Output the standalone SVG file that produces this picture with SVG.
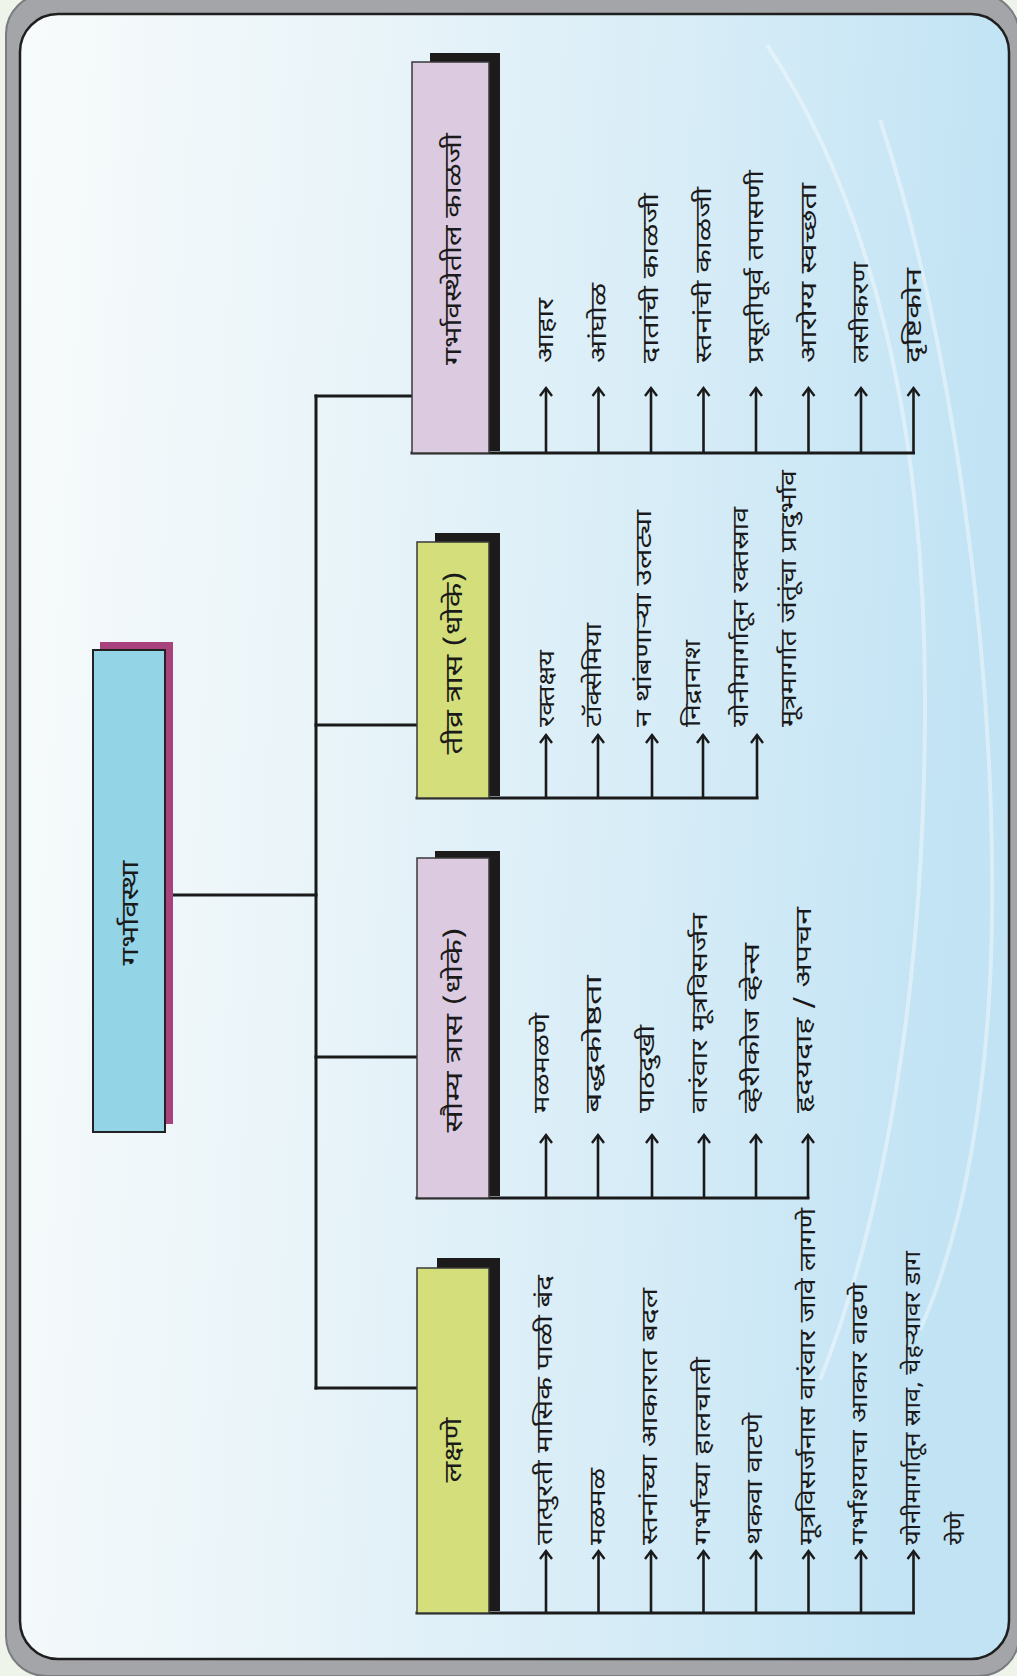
<svg xmlns="http://www.w3.org/2000/svg" width="1017" height="1676" viewBox="0 0 1017 1676">
<defs>
  <linearGradient id="bg" x1="0" y1="0" x2="1" y2="0.1">
    <stop offset="0" stop-color="#f8fbfb"/>
    <stop offset="0.35" stop-color="#e9f4f9"/>
    <stop offset="0.7" stop-color="#d6ecf7"/>
    <stop offset="1" stop-color="#c1e3f4"/>
  </linearGradient>
  <marker id="ah" markerUnits="userSpaceOnUse" viewBox="-10 -8 12 16" refX="0" refY="0" markerWidth="12" markerHeight="16" orient="auto">
    <path d="M-8,-6 L0,0 L-8,6" fill="none" stroke="#1a1a1a" stroke-width="2.4"/>
  </marker>
</defs>
<style>
  .ln{stroke:#1a1a1a;stroke-width:3;fill:none;stroke-linecap:square}
  .ar{stroke:#1a1a1a;stroke-width:2.6;fill:none;marker-end:url(#ah)}
  .t text{font-family:'Noto Sans Devanagari','Noto Sans',sans-serif;font-size:22px;fill:#1a1a1a}
  .h{font-family:'Noto Sans Devanagari','Noto Sans',sans-serif;font-size:24px;fill:#1a1a1a;text-anchor:middle}
  .shadow{fill:#1c1a1a}
  .pink{fill:#dccbe0;stroke:#3a3a3a;stroke-width:1.5}
  .green{fill:#d4df7b;stroke:#3a3a3a;stroke-width:1.5}
  .deco{fill:none;stroke:#ffffff;stroke-opacity:0.4;stroke-width:4}
</style>

<!-- frame -->
<rect x="0" y="0" width="1017" height="1676" fill="#eef4ea"/>
<rect x="6" y="-6" width="1013" height="1682" rx="40" fill="#a3a5a8" stroke="#7a7c80" stroke-width="2"/>
<rect x="20" y="14" width="989" height="1645" rx="38" fill="url(#bg)" stroke="#1e1e1e" stroke-width="2.5"/>
<path class="deco" d="M767,45 C870,200 925,420 925,700 C925,1000 880,1230 820,1380"/>
<path class="deco" d="M880,120 C950,330 995,650 992,915 C990,1100 960,1240 920,1330"/>

<!-- connectors -->
<g id="connectors">
  <line class="ln" x1="165" y1="895" x2="316" y2="895"/>
  <line class="ln" x1="316" y1="396" x2="316" y2="1388"/>
  <line class="ln" x1="316" y1="396" x2="412" y2="396"/>
  <line class="ln" x1="316" y1="725" x2="417" y2="725"/>
  <line class="ln" x1="316" y1="1057" x2="417" y2="1057"/>
  <line class="ln" x1="316" y1="1388" x2="417" y2="1388"/>

  <line class="ln" x1="412" y1="453" x2="913.5" y2="453"/>
  <line class="ar" x1="546" y1="453" x2="546" y2="388"/>
  <line class="ar" x1="598.5" y1="453" x2="598.5" y2="388"/>
  <line class="ar" x1="651" y1="453" x2="651" y2="388"/>
  <line class="ar" x1="703.5" y1="453" x2="703.5" y2="388"/>
  <line class="ar" x1="756" y1="453" x2="756" y2="388"/>
  <line class="ar" x1="808.5" y1="453" x2="808.5" y2="388"/>
  <line class="ar" x1="861" y1="453" x2="861" y2="388"/>
  <line class="ar" x1="913.5" y1="453" x2="913.5" y2="388"/>

  <line class="ln" x1="417" y1="798" x2="757" y2="798"/>
  <line class="ar" x1="546" y1="798" x2="546" y2="735"/>
  <line class="ar" x1="598" y1="798" x2="598" y2="735"/>
  <line class="ar" x1="652" y1="798" x2="652" y2="735"/>
  <line class="ar" x1="703" y1="798" x2="703" y2="735"/>
  <line class="ar" x1="757" y1="798" x2="757" y2="735"/>

  <line class="ln" x1="417" y1="1198" x2="808" y2="1198"/>
  <line class="ar" x1="546" y1="1198" x2="546" y2="1135"/>
  <line class="ar" x1="598" y1="1198" x2="598" y2="1135"/>
  <line class="ar" x1="652" y1="1198" x2="652" y2="1135"/>
  <line class="ar" x1="704" y1="1198" x2="704" y2="1135"/>
  <line class="ar" x1="756" y1="1198" x2="756" y2="1135"/>
  <line class="ar" x1="808" y1="1198" x2="808" y2="1135"/>

  <line class="ln" x1="417" y1="1613" x2="913.5" y2="1613"/>
  <line class="ar" x1="546" y1="1613" x2="546" y2="1551"/>
  <line class="ar" x1="598.5" y1="1613" x2="598.5" y2="1551"/>
  <line class="ar" x1="651" y1="1613" x2="651" y2="1551"/>
  <line class="ar" x1="703.5" y1="1613" x2="703.5" y2="1551"/>
  <line class="ar" x1="756" y1="1613" x2="756" y2="1551"/>
  <line class="ar" x1="808.5" y1="1613" x2="808.5" y2="1551"/>
  <line class="ar" x1="861" y1="1613" x2="861" y2="1551"/>
  <line class="ar" x1="913.5" y1="1613" x2="913.5" y2="1551"/>
</g>

<g id="node-main">
  <rect x="100" y="642" width="73" height="482" fill="#a8427c"/>
  <rect x="93" y="650" width="72" height="482" fill="#93d4e6" stroke="#222" stroke-width="2"/>
  <text class="h" transform="translate(138,913) rotate(-90)" textLength="105" lengthAdjust="spacingAndGlyphs">गर्भावस्था</text>
</g>

<g id="node-care">
  <rect class="shadow" x="430" y="53" width="70" height="398"/>
  <rect class="pink" x="412" y="62" width="77" height="391"/>
  <text class="h" transform="translate(461,249) rotate(-90)" textLength="232" lengthAdjust="spacingAndGlyphs">गर्भावस्थेतील काळजी</text>
</g>
<g id="items-care" class="t">
  <text transform="translate(553,363) rotate(-90)" textLength="65" lengthAdjust="spacingAndGlyphs">आहार</text>
  <text transform="translate(605.5,363) rotate(-90)" textLength="80" lengthAdjust="spacingAndGlyphs">आंघोळ</text>
  <text transform="translate(658,363) rotate(-90)" textLength="170" lengthAdjust="spacingAndGlyphs">दातांची काळजी</text>
  <text transform="translate(710.5,363) rotate(-90)" textLength="176" lengthAdjust="spacingAndGlyphs">स्तनांची काळजी</text>
  <text transform="translate(763,363) rotate(-90)" textLength="193" lengthAdjust="spacingAndGlyphs">प्रसूतीपूर्व तपासणी</text>
  <text transform="translate(815.5,363) rotate(-90)" textLength="180" lengthAdjust="spacingAndGlyphs">आरोग्य स्वच्छता</text>
  <text transform="translate(868,363) rotate(-90)" textLength="101" lengthAdjust="spacingAndGlyphs">लसीकरण</text>
  <text transform="translate(920.5,363) rotate(-90)" textLength="95" lengthAdjust="spacingAndGlyphs">दृष्टिकोन</text>
</g>

<g id="node-severe">
  <rect class="shadow" x="435" y="533" width="65" height="263"/>
  <rect class="green" x="417" y="542" width="72" height="256"/>
  <text class="h" transform="translate(462,663) rotate(-90)" textLength="183" lengthAdjust="spacingAndGlyphs">तीव्र त्रास (धोके)</text>
</g>
<g id="items-severe" class="t">
  <text transform="translate(554,727) rotate(-90)" textLength="77" lengthAdjust="spacingAndGlyphs">रक्तक्षय</text>
  <text transform="translate(601,727) rotate(-90)" textLength="104" lengthAdjust="spacingAndGlyphs">टॉक्सेमिया</text>
  <text transform="translate(651,727) rotate(-90)" textLength="217" lengthAdjust="spacingAndGlyphs">न थांबणाऱ्या उलट्या</text>
  <text transform="translate(700,727) rotate(-90)" textLength="87" lengthAdjust="spacingAndGlyphs">निद्रानाश</text>
  <text transform="translate(748,727) rotate(-90)" textLength="220" lengthAdjust="spacingAndGlyphs">योनीमार्गातून रक्तस्राव</text>
  <text transform="translate(796,727) rotate(-90)" textLength="257" lengthAdjust="spacingAndGlyphs">मूत्रमार्गात जंतूंचा प्रादुर्भाव</text>
</g>

<g id="node-mild">
  <rect class="shadow" x="435" y="851" width="65" height="345"/>
  <rect class="pink" x="417" y="858" width="72" height="340"/>
  <text class="h" transform="translate(462,1030) rotate(-90)" textLength="205" lengthAdjust="spacingAndGlyphs">सौम्य त्रास (धोके)</text>
</g>
<g id="items-mild" class="t">
  <text transform="translate(549,1113) rotate(-90)" textLength="100" lengthAdjust="spacingAndGlyphs">मळमळणे</text>
  <text transform="translate(601,1113) rotate(-90)" textLength="138" lengthAdjust="spacingAndGlyphs">बद्धकोष्ठता</text>
  <text transform="translate(654,1113) rotate(-90)" textLength="88" lengthAdjust="spacingAndGlyphs">पाठदुखी</text>
  <text transform="translate(707,1113) rotate(-90)" textLength="200" lengthAdjust="spacingAndGlyphs">वारंवार मूत्रविसर्जन</text>
  <text transform="translate(759,1113) rotate(-90)" textLength="170" lengthAdjust="spacingAndGlyphs">व्हेरीकोज व्हेन्स</text>
  <text transform="translate(811,1113) rotate(-90)" textLength="206" lengthAdjust="spacingAndGlyphs">हृदयदाह / अपचन</text>
</g>

<g id="node-signs">
  <rect class="shadow" x="437" y="1258" width="63" height="353"/>
  <rect class="green" x="417" y="1268" width="72" height="345"/>
  <text class="h" transform="translate(461,1450) rotate(-90)" textLength="65" lengthAdjust="spacingAndGlyphs">लक्षणे</text>
</g>
<g id="items-signs" class="t">
  <text transform="translate(552,1545) rotate(-90)" textLength="270" lengthAdjust="spacingAndGlyphs">तात्पुरती मासिक पाळी बंद</text>
  <text transform="translate(604.5,1545) rotate(-90)" textLength="77" lengthAdjust="spacingAndGlyphs">मळमळ</text>
  <text transform="translate(657,1545) rotate(-90)" textLength="257" lengthAdjust="spacingAndGlyphs">स्तनांच्या आकारात बदल</text>
  <text transform="translate(709.5,1545) rotate(-90)" textLength="188" lengthAdjust="spacingAndGlyphs">गर्भाच्या हालचाली</text>
  <text transform="translate(762,1545) rotate(-90)" textLength="132" lengthAdjust="spacingAndGlyphs">थकवा वाटणे</text>
  <text transform="translate(814.5,1545) rotate(-90)" textLength="337" lengthAdjust="spacingAndGlyphs">मूत्रविसर्जनास वारंवार जावे लागणे</text>
  <text transform="translate(867,1545) rotate(-90)" textLength="262" lengthAdjust="spacingAndGlyphs">गर्भाशयाचा आकार वाढणे</text>
  <text transform="translate(919.5,1545) rotate(-90)" textLength="294" lengthAdjust="spacingAndGlyphs">योनीमार्गातून स्राव, चेहऱ्यावर डाग</text>
  <text transform="translate(964,1545) rotate(-90)" textLength="33" lengthAdjust="spacingAndGlyphs">येणे</text>
</g>
</svg>
